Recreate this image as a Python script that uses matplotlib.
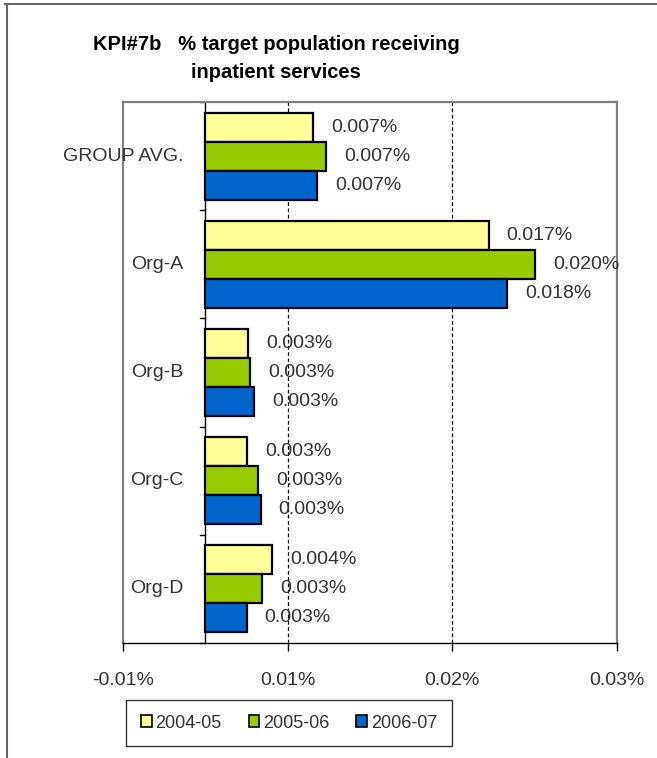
import matplotlib
matplotlib.use('Agg')
import matplotlib.pyplot as plt
from matplotlib.lines import Line2D
from matplotlib.patches import Patch
import numpy as np

plt.rcParams['font.family'] = ['Liberation Sans', 'DejaVu Sans']

# data (values in percent)
categories = ['GROUP AVG.', 'Org-A', 'Org-B', 'Org-C', 'Org-D']
series = ['2004-05', '2005-06', '2006-07']
v_2004 = [0.00654, 0.0172, 0.00259, 0.00253, 0.00405]
v_2005 = [0.00733, 0.02005, 0.00273, 0.00320, 0.00344]
v_2006 = [0.00678, 0.01835, 0.00297, 0.00336, 0.00251]
xticks = [-0.005, 0.005, 0.015, 0.025]
xtick_labels = ['-0.01%', '0.01%', '0.02%', '0.03%']

colors = ['#FFFF99', '#99CC00', '#0066CC']
txt_color = '#333333'

fig = plt.figure(figsize=(6.57, 7.58), dpi=100)
ax = fig.add_axes([123 / 657, 1 - 643 / 758, 494 / 657, 541 / 758])

y = np.arange(len(categories))
h = 0.268
for i, (vals, c, lab) in enumerate(zip([v_2004, v_2005, v_2006], colors, series)):
    pos = y + (i - 1) * h
    ax.barh(pos, vals, height=h, color=c, edgecolor='black', linewidth=1.6,
            label=lab, zorder=3)
    for p, v in zip(pos, vals):
        ax.annotate(f'{v:.3f}%', (v, p), xytext=(13, 0), textcoords='offset points',
                    ha='left', va='center', fontsize=14, color=txt_color, zorder=4)

ax.set_xlim(-0.005, 0.025)
ax.set_ylim(len(categories) - 0.5, -0.5)

# dashed gridlines
for gx in [0.005, 0.015]:
    ax.axvline(gx, color='black', linestyle=(0, (3, 2)), linewidth=0.9, zorder=1)

# zero axis with category ticks
ax.axvline(0, color='black', linewidth=1.0, zorder=2)
for b in np.arange(-0.5, len(categories), 1.0):
    ax.plot([-0.00035, 0], [b, b], color='black', linewidth=1.0, clip_on=False, zorder=2)

# category labels
for yy, cat in zip(y, categories):
    ax.annotate(cat, (0, yy), xytext=(-16, 0), textcoords='offset points',
                ha='right', va='center', fontsize=14, color=txt_color)

ax.set_yticks([])
ax.set_xticks(xticks)
ax.set_xticklabels(xtick_labels, fontsize=14, color=txt_color)
ax.tick_params(axis='x', direction='out', length=6, width=1.0, color='black', pad=15)

for s in ['left', 'top', 'right']:
    ax.spines[s].set_color('#808080')
    ax.spines[s].set_linewidth(1.6)
ax.spines['bottom'].set_color('black')
ax.spines['bottom'].set_linewidth(1.0)

fig.text(276 / 657, 1 - 58 / 758, 'KPI#7b   % target population receiving\ninpatient services',
         ha='center', va='center', fontsize=14.5, fontweight='bold', linespacing=1.6)

handles = [Patch(facecolor=c, edgecolor='black', linewidth=1.2) for c in colors]
leg = fig.legend(handles, series, loc='center', bbox_to_anchor=(289 / 657, 1 - 723 / 758),
                 ncol=3, fontsize=13, frameon=True, fancybox=False, handlelength=0.6,
                 handleheight=0.6, handletextpad=0.2, columnspacing=1.5,
                 borderpad=0.8)
for t in leg.get_texts():
    t.set_color(txt_color)
leg.get_frame().set_edgecolor('black')
leg.get_frame().set_linewidth(1.0)

# outer chart border
fig.add_artist(Line2D([5 / 657, 1], [1 - 4 / 758, 1 - 4 / 758], color='#666666', linewidth=1.5))
fig.add_artist(Line2D([7 / 657, 7 / 657], [0, 1 - 4 / 758], color='#666666', linewidth=1.5))

fig.savefig('out.png', dpi=100)
